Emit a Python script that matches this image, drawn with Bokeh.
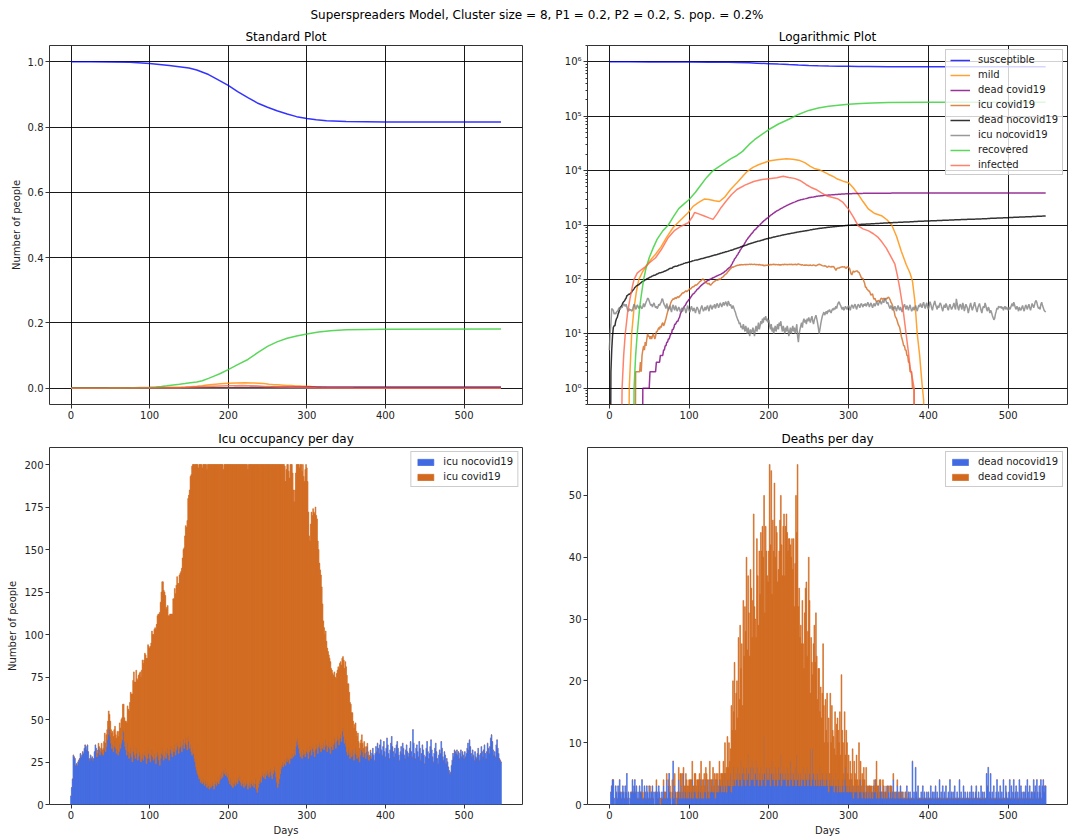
import numpy as np
from bokeh.plotting import figure
from bokeh.layouts import column, row
from bokeh.models import Range1d, FixedTicker, CustomJSTickFormatter, Label, ColumnDataSource
from bokeh.embed import file_html
from bokeh.resources import INLINE

FONT = "DejaVu Sans"
SUPTITLE = "Superspreaders Model, Cluster size = 8, P1 = 0.2, P2 = 0.2, S. pop. = 0.2%"
TITLES = ["Standard Plot", "Logarithmic Plot", "Icu occupancy per day", "Deaths per day"]

X_TICKS = [0, 100, 200, 300, 400, 500]
STD_Y_TICKS = [0, 200000, 400000, 600000, 800000, 1000000]
LOG_Y_TICKS = [1, 10, 100, 1000, 10000, 100000, 1000000]
ICU_Y_TICKS = [0, 25, 50, 75, 100, 125, 150, 175, 200]
DEATH_Y_TICKS = [0, 10, 20, 30, 40, 50]

SERIES = ["susceptible", "mild", "dead covid19", "icu covid19",
          "dead nocovid19", "icu nocovid19", "recovered", "infected"]
COLORS = ["blue", "darkorange", "purple", "chocolate", "black", "gray", "limegreen", "tomato"]

# (day, people)
SUSCEPTIBLE = [(0, 999990), (25, 999950), (50, 999600), (75, 998400), (100, 995000), (125, 989000),
               (150, 981000), (160, 975000), (175, 961000), (185, 948000), (200, 928000),
               (212, 909000), (225, 890000), (237, 874000), (250, 861000), (262, 850000),
               (275, 840000), (287, 832000), (300, 826500), (312, 822500), (325, 819500),
               (350, 816800), (400, 815800), (547, 815500)]

RECOVERED = [(0, 0), (30, 0), (31, 1), (33, 4), (35, 10), (38, 30), (40, 50), (43, 100), (46, 160),
             (50, 250), (55, 380), (60, 550), (67, 780), (74, 1000), (80, 1400), (87, 2000),
             (93, 2400), (100, 2950), (108, 4000), (115, 5500), (122, 7500), (130, 10000),
             (138, 12000), (145, 14000), (152, 16500), (160, 19000), (167, 22600), (175, 30000),
             (182, 37000), (190, 45000), (200, 57000), (212, 72000), (225, 88000), (237, 108000),
             (250, 128000), (262, 142000), (275, 153000), (287, 160000), (300, 166000),
             (315, 172000), (330, 176000), (350, 179000), (400, 180500), (547, 181000)]

MILD = [(0, 0), (24, 0), (25, 1), (28, 10), (31, 30), (34, 60), (37, 100), (42, 140), (48, 190),
        (53, 240), (58, 290), (65, 400), (72, 600), (80, 900), (86, 1100), (92, 1350), (99, 1700),
        (105, 2200), (112, 2600), (119, 3000), (125, 2950), (132, 2800), (138, 2700), (145, 3300),
        (152, 4500), (160, 6000), (167, 7800), (173, 9700), (180, 11500), (187, 12800),
        (194, 14000), (200, 15000), (210, 15800), (222, 16500), (230, 16200), (239, 15300),
        (245, 14000), (252, 12000), (258, 10800), (263, 10400), (270, 9300), (275, 8500),
        (280, 7900), (286, 7000), (293, 6400), (300, 6000), (306, 4800), (312, 3650),
        (318, 2700), (325, 1950), (332, 1650), (342, 1460), (348, 1250), (354, 1000),
        (360, 620), (366, 330), (372, 190), (377, 130), (380, 93), (383, 40), (386, 10),
        (389, 4), (392, 1.2), (394, 0.6), (395, 0), (547, 0)]

INFECTED = [(0, 0), (14, 0), (16, 1), (18, 4), (20, 10), (23, 25), (26, 45), (29, 75), (31, 100),
            (35, 130), (40, 150), (45, 170), (50, 200), (58, 250), (65, 350), (74, 590), (82, 800),
            (90, 950), (99, 1100), (104, 1400), (107, 1700), (112, 1600), (119, 1460), (125, 1350),
            (130, 1270), (135, 1600), (140, 2080), (146, 2700), (153, 3600), (160, 4500),
            (170, 5400), (181, 6300), (190, 6800), (200, 7100), (210, 7400), (218, 7900),
            (225, 7500), (232, 7200), (239, 6600), (247, 5500), (253, 4900), (259, 4500),
            (266, 3900), (273, 3400), (280, 3200), (286, 3050), (293, 2600), (300, 1940),
            (306, 1400), (312, 960), (318, 850), (325, 780), (331, 690), (337, 590), (342, 480),
            (347, 380), (352, 280), (358, 190), (361, 120), (364, 70), (368, 30), (372, 10),
            (375, 4.5), (377, 2.4), (380, 1.5), (382, 1), (383, 0), (547, 0)]

# daily values, day 0 .. 547
ICU_NOCOVID = [
    5, 10, 15, 29, 28, 27, 23, 24, 23, 25,
    26, 27, 30, 28, 29, 31, 30, 33, 35, 34,
    32, 35, 31, 27, 26, 29, 27, 28, 26, 27,
    31, 35, 33, 28, 30, 34, 32, 29, 31, 33,
    30, 29, 32, 36, 31, 34, 38, 41, 45, 44,
    40, 36, 33, 35, 31, 34, 37, 33, 30, 32,
    29, 31, 35, 33, 36, 38, 44, 43, 37, 34,
    32, 29, 36, 31, 27, 30, 33, 28, 25, 31,
    34, 29, 27, 33, 30, 26, 28, 31, 29, 25,
    27, 30, 26, 29, 31, 28, 24, 27, 33, 30,
    27, 25, 29, 32, 28, 26, 30, 27, 24, 28,
    31, 29, 26, 23, 27, 30, 33, 29, 26, 28,
    31, 27, 30, 33, 29, 26, 32, 34, 30, 28,
    33, 31, 35, 29, 32, 36, 34, 30, 33, 37,
    34, 31, 35, 38, 33, 36, 39, 35, 32, 40,
    37, 33, 35, 31, 29, 33, 30, 27, 25, 22,
    20, 18, 17, 15, 16, 13, 14, 12, 15, 13,
    11, 14, 12, 10, 13, 11, 9, 12, 10, 11,
    13, 11, 9, 12, 14, 11, 13, 16, 12, 14,
    17, 15, 19, 16, 20, 18, 21, 17, 19, 16,
    18, 14, 12, 15, 11, 13, 10, 12, 14, 11,
    13, 15, 12, 16, 14, 17, 13, 11, 14, 12,
    10, 13, 11, 14, 12, 9, 11, 13, 10, 12,
    14, 11, 13, 10, 12, 15, 9, 7, 10, 12,
    14, 16, 13, 17, 19, 16, 18, 15, 19, 17,
    20, 18, 16, 19, 21, 17, 15, 18, 20, 22,
    19, 16, 13, 10, 12, 15, 18, 21, 23, 25,
    22, 24, 26, 23, 27, 25, 28, 26, 24, 27,
    29, 27, 30, 28, 32, 29, 34, 37, 39, 35,
    33, 30, 28, 31, 27, 29, 32, 30, 28, 31,
    33, 30, 27, 31, 34, 32, 29, 33, 35, 31,
    28, 32, 35, 33, 30, 34, 36, 33, 31, 35,
    33, 36, 32, 34, 38, 35, 31, 34, 37, 33,
    30, 34, 36, 32, 35, 39, 36, 33, 37, 40,
    38, 35, 39, 41, 37, 43, 45, 40, 36, 38,
    34, 31, 29, 33, 30, 27, 31, 28, 32, 29,
    26, 30, 33, 29, 27, 31, 28, 25, 29, 32,
    35, 31, 28, 33, 30, 27, 31, 34, 29, 26,
    28, 31, 27, 30, 33, 29, 26, 30, 34, 31,
    36, 33, 30, 35, 38, 32, 29, 34, 37, 31,
    28, 33, 39, 35, 30, 27, 32, 36, 40, 34,
    31, 28, 33, 30, 35, 37, 33, 29, 26, 31,
    34, 30, 36, 33, 29, 27, 32, 35, 31, 28,
    30, 33, 37, 31, 28, 44, 36, 30, 27, 33,
    35, 31, 28, 37, 33, 26, 30, 35, 32, 29,
    24, 28, 33, 37, 31, 27, 30, 34, 38, 32,
    28, 25, 30, 33, 36, 31, 27, 24, 29, 32,
    30, 37, 33, 28, 26, 31, 29, 24, 27, 25,
    22, 20, 18, 19, 23, 26, 30, 28, 32, 31,
    30, 32, 29, 31, 27, 30, 32, 28, 31, 29,
    27, 31, 28, 30, 33, 36, 32, 38, 34, 30,
    28, 32, 29, 26, 31, 28, 27, 30, 33, 29,
    26, 30, 34, 31, 28, 32, 35, 30, 27, 31,
    36, 33, 30, 34, 39, 41, 37, 32, 29, 31,
    28, 35, 38, 33, 30, 27, 26, 25]

ICU_COVID = [
    0, 0, 0, 0, 0, 0, 0, 0, 0, 0,
    0, 0, 0, 0, 0, 0, 0, 0, 0, 0,
    0, 0, 0, 0, 0, 0, 0, 0, 0, 0,
    0, 0, 0, 2, 2, 2, 2, 2, 2, 3,
    2, 4, 5, 6, 5, 7, 6, 8, 10, 9,
    9, 8, 9, 8, 9, 10, 9, 8, 9, 11,
    11, 12, 13, 12, 14, 13, 15, 16, 14, 15,
    17, 19, 22, 25, 28, 30, 33, 37, 40, 42,
    44, 43, 45, 46, 44, 47, 48, 46, 49, 50,
    52, 55, 57, 56, 58, 60, 62, 59, 61, 63,
    65, 68, 66, 70, 72, 74, 73, 77, 79, 78,
    80, 83, 86, 90, 92, 95, 98, 102, 100, 97,
    92, 88, 86, 84, 82, 85, 80, 78, 82, 84,
    88, 90, 92, 95, 97, 98, 96, 100, 102, 99,
    103, 108, 110, 112, 118, 122, 125, 128, 135, 140,
    145, 152, 158, 163, 170, 167, 170, 173, 175, 178,
    180, 182, 181, 185, 184, 187, 186, 186, 185, 187,
    189, 186, 188, 187, 187, 189, 191, 188, 190, 189,
    187, 189, 191, 188, 186, 189, 187, 184, 188, 186,
    183, 185, 181, 184, 177, 182, 179, 183, 181, 184,
    182, 186, 188, 185, 189, 187, 190, 188, 186, 189,
    187, 185, 188, 184, 186, 183, 187, 189, 186, 188,
    190, 187, 189, 186, 188, 188, 189, 187, 190, 188,
    186, 189, 187, 190, 188, 185, 191, 193, 190, 188,
    186, 184, 187, 183, 181, 184, 182, 185, 181, 183,
    180, 182, 184, 181, 179, 183, 185, 182, 180, 178,
    181, 184, 187, 190, 188, 185, 182, 179, 177, 175,
    178, 176, 173, 167, 170, 175, 172, 170, 168, 173,
    171, 173, 165, 157, 146, 156, 161, 163, 161, 165,
    167, 168, 172, 169, 169, 171, 161, 160, 169, 169,
    165, 160, 145, 127, 121, 133, 143, 137, 139, 141,
    143, 143, 135, 135, 125, 116, 106, 105, 104, 93,
    85, 72, 72, 66, 64, 61, 61, 56, 51, 53,
    54, 46, 43, 45, 41, 39, 39, 41, 40, 39,
    43, 45, 44, 43, 45, 43, 42, 45, 44, 46,
    47, 45, 42, 38, 36, 33, 28, 26, 22, 20,
    19, 17, 15, 14, 13, 11, 9, 8, 7, 6,
    6, 5, 5, 4, 4, 3, 3, 2, 2, 2,
    1, 1, 1, 0, 0, 0, 0, 0, 0, 0,
    0, 0, 0, 0, 0, 0, 0, 0, 0, 0,
    0, 0, 0, 0, 0, 0, 0, 0, 0, 0,
    0, 0, 0, 0, 0, 0, 0, 0, 0, 0,
    0, 0, 0, 0, 0, 0, 0, 0, 0, 0,
    0, 0, 0, 0, 0, 0, 0, 0, 0, 0,
    0, 0, 0, 0, 0, 0, 0, 0, 0, 0,
    0, 0, 0, 0, 0, 0, 0, 0, 0, 0,
    0, 0, 0, 0, 0, 0, 0, 0, 0, 0,
    0, 0, 0, 0, 0, 0, 0, 0, 0, 0,
    0, 0, 0, 0, 0, 0, 0, 0, 0, 0,
    0, 0, 0, 0, 0, 0, 0, 0, 0, 0,
    0, 0, 0, 0, 0, 0, 0, 0, 0, 0,
    0, 0, 0, 0, 0, 0, 0, 0, 0, 0,
    0, 0, 0, 0, 0, 0, 0, 0, 0, 0,
    0, 0, 0, 0, 0, 0, 0, 0, 0, 0,
    0, 0, 0, 0, 0, 0, 0, 0]

DEAD_NOCOVID_DAILY = [
    0, 0, 2, 3, 4, 4, 1, 0, 3, 2,
    1, 3, 2, 4, 2, 1, 2, 3, 2, 1,
    3, 2, 5, 1, 2, 0, 1, 2, 2, 4,
    2, 3, 4, 2, 3, 1, 2, 1, 3, 2,
    2, 4, 1, 1, 3, 2, 1, 3, 2, 1,
    3, 2, 1, 2, 3, 1, 2, 0, 2, 3,
    2, 1, 3, 2, 0, 1, 2, 1, 3, 2,
    1, 2, 4, 1, 3, 5, 2, 1, 0, 2,
    7, 1, 3, 2, 0, 1, 2, 4, 1, 2,
    3, 1, 2, 5, 1, 2, 3, 1, 2, 1,
    2, 3, 1, 2, 4, 1, 2, 3, 2, 1,
    1, 2, 3, 1, 2, 4, 1, 2, 1, 3,
    2, 4, 1, 3, 2, 1, 4, 2, 3, 2,
    4, 2, 3, 1, 4, 2, 3, 2, 4, 3,
    3, 2, 4, 3, 2, 5, 3, 2, 4, 3,
    4, 3, 5, 2, 4, 3, 6, 4, 3, 5,
    4, 6, 3, 5, 4, 7, 3, 5, 6, 4,
    5, 3, 6, 4, 8, 5, 3, 6, 4, 7,
    4, 6, 3, 5, 7, 4, 6, 3, 5, 4,
    6, 3, 5, 4, 11, 5, 3, 6, 4, 5,
    4, 6, 3, 5, 7, 4, 5, 3, 6, 4,
    5, 3, 6, 4, 5, 8, 3, 5, 4, 6,
    4, 5, 3, 6, 4, 5, 3, 7, 4, 5,
    3, 5, 4, 6, 3, 8, 4, 5, 3, 4,
    5, 3, 4, 6, 4, 3, 5, 4, 6, 3,
    4, 5, 9, 3, 4, 9, 5, 3, 4, 5,
    3, 5, 4, 3, 6, 4, 3, 5, 4, 3,
    4, 3, 5, 4, 3, 2, 4, 3, 5, 3,
    3, 4, 2, 3, 5, 3, 2, 4, 3, 2,
    3, 2, 4, 3, 2, 4, 6, 3, 2, 3,
    2, 3, 2, 4, 2, 3, 1, 2, 3, 2,
    3, 2, 1, 3, 2, 4, 2, 1, 2, 3,
    2, 1, 3, 2, 1, 2, 3, 1, 2, 2,
    1, 3, 2, 2, 4, 1, 2, 3, 1, 2,
    3, 2, 1, 2, 3, 1, 2, 2, 1, 3,
    2, 1, 3, 2, 1, 2, 4, 1, 2, 1,
    2, 3, 1, 2, 1, 3, 2, 1, 2, 1,
    1, 2, 1, 3, 1, 2, 1, 2, 1, 1,
    7, 1, 2, 1, 6, 2, 1, 3, 1, 1,
    1, 2, 1, 3, 1, 2, 1, 1, 2, 1,
    2, 1, 1, 3, 1, 2, 1, 2, 1, 3,
    1, 2, 1, 1, 4, 1, 2, 1, 3, 1,
    2, 1, 3, 1, 1, 2, 1, 4, 1, 2,
    1, 2, 1, 3, 1, 1, 2, 1, 1, 4,
    1, 2, 1, 1, 3, 1, 2, 1, 1, 2,
    1, 1, 2, 1, 3, 1, 2, 1, 1, 2,
    3, 1, 1, 2, 1, 1, 3, 1, 2, 1,
    2, 1, 1, 5, 3, 6, 1, 2, 5, 1,
    2, 1, 3, 1, 1, 2, 4, 1, 2, 1,
    3, 1, 2, 1, 4, 1, 1, 3, 2, 1,
    1, 2, 4, 1, 3, 1, 2, 4, 1, 2,
    3, 1, 2, 1, 4, 1, 3, 2, 1, 2,
    1, 2, 3, 1, 4, 2, 1, 3, 1, 2,
    2, 1, 4, 2, 3, 1, 4, 2, 1, 3,
    2, 4, 1, 3, 4, 2, 3, 3]

DEAD_COVID_DAILY = [
    0, 0, 0, 0, 0, 0, 0, 0, 0, 0,
    0, 0, 0, 0, 0, 0, 0, 0, 0, 0,
    0, 0, 0, 0, 0, 0, 0, 0, 0, 0,
    0, 0, 0, 0, 0, 0, 0, 0, 0, 0,
    0, 0, 1, 0, 0, 0, 0, 0, 0, 0,
    0, 1, 0, 0, 0, 0, 0, 0, 0, 1,
    0, 0, 0, 0, 1, 0, 0, 0, 1, 0,
    1, 0, 1, 0, 1, 0, 1, 1, 0, 2,
    0, 1, 2, 0, 1, 1, 0, 2, 1, 3,
    2, 1, 3, 1, 2, 1, 2, 3, 1, 2,
    2, 1, 3, 2, 3, 2, 1, 2, 3, 2,
    3, 2, 1, 4, 2, 3, 2, 2, 3, 2,
    1, 2, 4, 1, 2, 1, 3, 2, 1, 2,
    2, 1, 2, 3, 1, 2, 2, 1, 3, 1,
    2, 3, 1, 4, 3, 5, 2, 4, 7, 3,
    6, 4, 4, 14, 8, 17, 9, 19, 9, 13,
    16, 8, 24, 12, 25, 15, 23, 11, 27, 20,
    27, 25, 34, 21, 29, 26, 21, 32, 31, 20,
    29, 41, 29, 25, 20, 39, 31, 26, 36, 30,
    38, 38, 40, 36, 39, 26, 42, 35, 33, 31,
    37, 49, 39, 49, 27, 42, 36, 49, 34, 41,
    39, 33, 32, 37, 41, 42, 39, 32, 41, 41,
    33, 40, 44, 38, 37, 38, 40, 35, 36, 38,
    35, 38, 28, 33, 47, 36, 51, 27, 32, 23,
    24, 23, 29, 20, 18, 28, 30, 32, 18, 25,
    36, 28, 9, 24, 19, 12, 21, 26, 19, 26,
    21, 12, 18, 19, 9, 15, 11, 13, 22, 13,
    6, 14, 7, 14, 7, 12, 1, 15, 5, 13,
    9, 7, 7, 12, 3, 10, 12, 8, 7, 13,
    5, 19, 8, 7, 3, 11, 2, 9, 8, 2,
    6, 1, 5, 1, 2, 6, 2, 5, 2, 2,
    5, 2, 2, 7, 2, 3, 1, 4, 2, 3,
    2, 1, 3, 1, 2, 1, 0, 2, 1, 1,
    1, 0, 2, 1, 0, 6, 1, 0, 1, 2,
    1, 0, 1, 2, 0, 1, 0, 1, 1, 0,
    1, 0, 0, 1, 2, 0, 1, 0, 0, 1,
    0, 1, 0, 0, 1, 0, 0, 1, 0, 0,
    0, 0, 1, 0, 0, 0, 0, 0, 0, 0,
    0, 0, 0, 0, 0, 0, 0, 0, 0, 0,
    0, 0, 0, 0, 0, 0, 0, 0, 0, 0,
    0, 0, 0, 0, 0, 0, 0, 0, 0, 0,
    0, 0, 0, 0, 0, 0, 0, 0, 0, 0,
    0, 0, 0, 0, 0, 0, 0, 0, 0, 0,
    0, 0, 0, 0, 0, 0, 0, 0, 0, 0,
    0, 0, 0, 0, 0, 0, 0, 0, 0, 0,
    0, 0, 0, 0, 0, 0, 0, 0, 0, 0,
    0, 0, 0, 0, 0, 0, 0, 0, 0, 0,
    0, 0, 0, 0, 0, 0, 0, 0, 0, 0,
    0, 0, 0, 0, 0, 0, 0, 0, 0, 0,
    0, 0, 0, 0, 0, 0, 0, 0, 0, 0,
    0, 0, 0, 0, 0, 0, 0, 0, 0, 0,
    0, 0, 0, 0, 0, 0, 0, 0, 0, 0,
    0, 0, 0, 0, 0, 0, 0, 0, 0, 0,
    0, 0, 0, 0, 0, 0, 0, 0, 0, 0,
    0, 0, 0, 0, 0, 0, 0, 0]


def split(pairs):
    return [p[0] for p in pairs], [p[1] for p in pairs]


n_icu = min(len(ICU_NOCOVID), len(ICU_COVID))
icu_n = np.array(ICU_NOCOVID[:n_icu], float)
icu_c = np.array(ICU_COVID[:n_icu], float)
n_dead = min(len(DEAD_NOCOVID_DAILY), len(DEAD_COVID_DAILY))
dn = np.array(DEAD_NOCOVID_DAILY[:n_dead], float)
dc = np.array(DEAD_COVID_DAILY[:n_dead], float)

LINES = {
    "susceptible": split(SUSCEPTIBLE),
    "mild": split(MILD),
    "dead covid19": (np.arange(n_dead), np.cumsum(dc)),
    "icu covid19": (np.arange(n_icu), icu_c),
    "dead nocovid19": (np.arange(n_dead), np.cumsum(dn)),
    "icu nocovid19": (np.arange(n_icu), icu_n),
    "recovered": split(RECOVERED),
    "infected": split(INFECTED),
}

XR = (-27.35, 574.35)


def style(p, grid):
    p.title.text_font = FONT
    p.title.text_font_size = "12px"
    p.title.text_font_style = "normal"
    p.title.align = "center"
    p.title.text_color = "black"
    p.title.standoff = 4
    p.outline_line_color = "#333333"
    p.outline_line_width = 1
    p.background_fill_color = "white"
    p.border_fill_color = "white"
    for ax in p.axis:
        ax.axis_line_color = None
        ax.major_label_text_font = FONT
        ax.major_label_text_font_size = "10px"
        ax.major_label_text_color = "#222222"
        ax.major_tick_line_color = "#333333"
        ax.major_tick_out = 4
        ax.major_tick_in = 0
        ax.minor_tick_out = 0
        ax.minor_tick_in = 0
        ax.major_label_standoff = 2
        ax.axis_label_text_font = FONT
        ax.axis_label_text_font_size = "10px"
        ax.axis_label_text_font_style = "normal"
        ax.axis_label_text_color = "#222222"
        ax.axis_label_standoff = 3
    if grid:
        for g in p.grid:
            g.grid_line_color = "black"
            g.grid_line_alpha = 0.9
            g.grid_line_width = 1
    else:
        p.grid.grid_line_color = None


def style_legend(lg, glyph_h):
    lg.label_text_font = FONT
    lg.label_text_font_size = "10px"
    lg.label_text_color = "#222222"
    lg.glyph_width = 20
    lg.glyph_height = glyph_h
    lg.label_height = 10
    lg.label_standoff = 8
    lg.spacing = 4
    lg.padding = 4
    lg.margin = 4
    lg.border_line_color = "#cccccc"
    lg.border_line_alpha = 1
    lg.background_fill_alpha = 0.8
    lg.location = "top_right"


# title strip
p0 = figure(width=1073, height=24, x_range=(0, 1), y_range=(0, 1), toolbar_location=None,
            output_backend="svg", min_border=0, outline_line_color=None,
            x_axis_location=None, y_axis_location=None)
p0.grid.grid_line_color = None
p0.add_layout(Label(x=0.5, y=0.4, text=SUPTITLE, text_align="center", text_baseline="middle",
                    text_font=FONT, text_font_size="12px", text_color="black"))

# standard plot
p1 = figure(width=540, height=402, title=TITLES[0], x_range=Range1d(*XR),
            y_range=Range1d(-50000, 1050000), toolbar_location=None, output_backend="svg",
            min_border_left=49, min_border_right=18, min_border_top=21, min_border_bottom=22)
for name, col in zip(SERIES, COLORS):
    x, y = LINES[name]
    p1.line(x, y, line_color=col, line_width=1.5, line_alpha=0.8)
p1.xaxis.ticker = FixedTicker(ticks=X_TICKS)
p1.yaxis.ticker = FixedTicker(ticks=STD_Y_TICKS)
p1.yaxis.formatter = CustomJSTickFormatter(code="return (tick/1e6).toFixed(1);")
p1.yaxis.axis_label = "Number of people"
style(p1, True)
p1.add_layout(Label(x=XR[0], y=1050000, text="1e6", text_font=FONT, text_font_size="10px",
                    text_color="#222222", text_baseline="bottom", y_offset=2, x_offset=1))

# logarithmic plot
p2 = figure(width=533, height=402, title=TITLES[1], x_range=Range1d(*XR),
            y_range=Range1d(0.5, 2.0e6), y_axis_type="log", toolbar_location=None,
            output_backend="svg", min_border_left=47, min_border_right=6,
            min_border_top=21, min_border_bottom=22)
for name, col in zip(SERIES, COLORS):
    x, y = LINES[name]
    y = np.asarray(y, float)
    y = np.where(y > 0, y, 1e-3)
    p2.line(x, y, line_color=col, line_width=1.5, line_alpha=0.8, legend_label=name)
minor = [m * 10 ** e for e in range(-1, 7) for m in range(2, 10)]
p2.xaxis.ticker = FixedTicker(ticks=X_TICKS)
p2.yaxis.ticker = FixedTicker(ticks=LOG_Y_TICKS, minor_ticks=minor)
p2.yaxis.formatter = CustomJSTickFormatter(code="""
const sup = ['\\u2070','\\u00b9','\\u00b2','\\u00b3','\\u2074','\\u2075','\\u2076','\\u2077','\\u2078','\\u2079'];
const e = Math.round(Math.log10(tick));
return '10' + String(e).split('').map(d => sup[+d]).join('');
""")
style(p2, True)
p2.yaxis.minor_tick_out = 2
p2.yaxis.minor_tick_line_color = "#333333"
style_legend(p2.legend[0], 10)

BAR_LINE = 0.6

# icu occupancy
src_icu = ColumnDataSource(dict(x=np.arange(n_icu), n=icu_n, top=icu_n + icu_c))
p3 = figure(width=540, height=412, title=TITLES[2], x_range=Range1d(*XR),
            y_range=Range1d(0, 210), toolbar_location=None, output_backend="svg",
            min_border_left=49, min_border_right=18, min_border_top=21, min_border_bottom=32)
p3.vbar(x="x", width=1, bottom=0, top="n", source=src_icu, fill_color="royalblue",
        line_color="royalblue", line_width=BAR_LINE, legend_label="icu nocovid19")
p3.vbar(x="x", width=1, bottom="n", top="top", source=src_icu, fill_color="chocolate",
        line_color="chocolate", line_width=BAR_LINE, legend_label="icu covid19")
p3.xaxis.ticker = FixedTicker(ticks=X_TICKS)
p3.yaxis.ticker = FixedTicker(ticks=ICU_Y_TICKS)
p3.xaxis.axis_label = "Days"
p3.yaxis.axis_label = "Number of people"
style(p3, False)
style_legend(p3.legend[0], 8)

# deaths per day
src_d = ColumnDataSource(dict(x=np.arange(n_dead), n=dn, top=dn + dc))
p4 = figure(width=533, height=412, title=TITLES[3], x_range=Range1d(*XR),
            y_range=Range1d(0, 57.75), toolbar_location=None, output_backend="svg",
            min_border_left=47, min_border_right=6, min_border_top=21, min_border_bottom=32)
p4.vbar(x="x", width=1, bottom=0, top="n", source=src_d, fill_color="royalblue",
        line_color="royalblue", line_width=BAR_LINE, legend_label="dead nocovid19")
p4.vbar(x="x", width=1, bottom="n", top="top", source=src_d, fill_color="chocolate",
        line_color="chocolate", line_width=BAR_LINE, legend_label="dead covid19")
p4.xaxis.ticker = FixedTicker(ticks=X_TICKS)
p4.yaxis.ticker = FixedTicker(ticks=DEATH_Y_TICKS)
p4.xaxis.axis_label = "Days"
style(p4, False)
style_legend(p4.legend[0], 8)

layout = column(p0, row(p1, p2), row(p3, p4))
with open("out.html", "w", encoding="utf-8") as f:
    f.write(file_html(layout, INLINE))
